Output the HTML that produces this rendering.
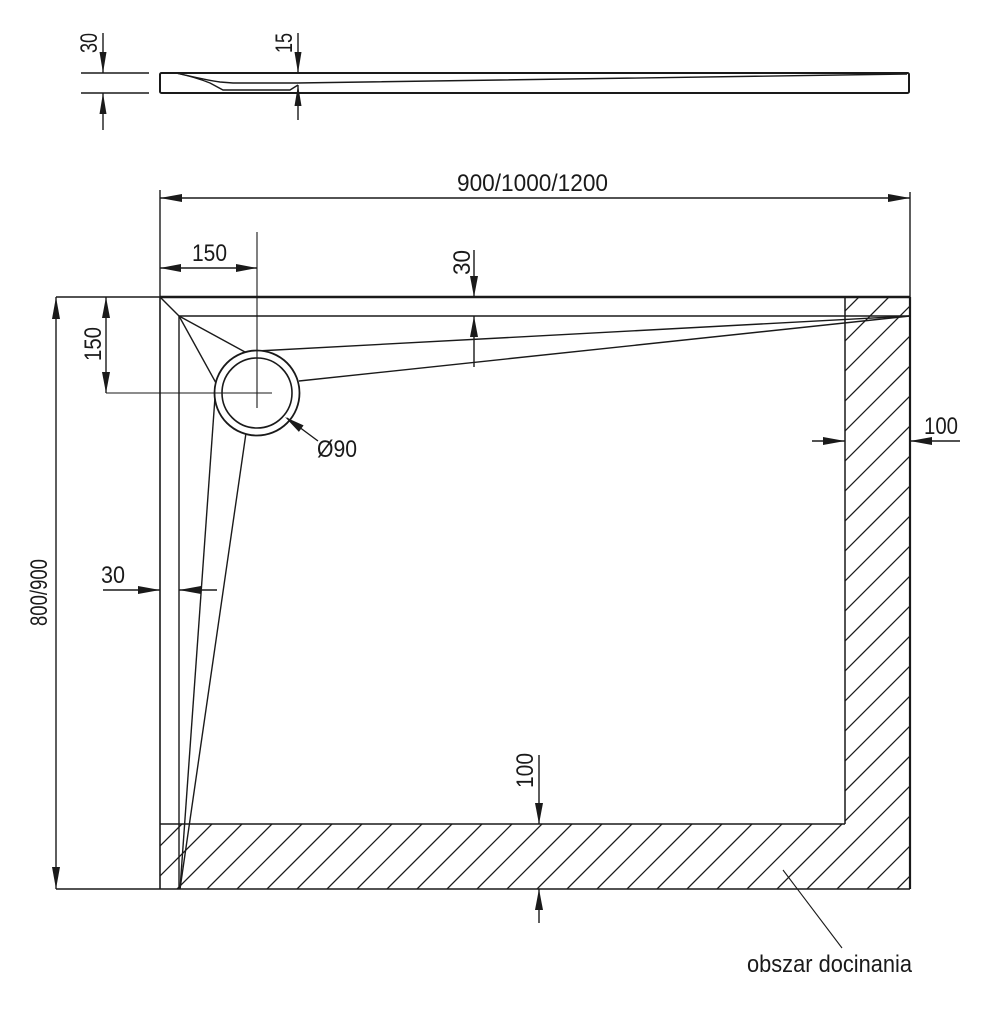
<!DOCTYPE html>
<html><head><meta charset="utf-8"><style>
html,body{margin:0;padding:0;background:#fff;}
svg{display:block;}
text{font-family:"Liberation Sans Narrow","Liberation Sans",sans-serif;fill:#1a1a1a;font-size:24px;}
</style></head><body>
<svg width="992" height="1025" viewBox="0 0 992 1025" xmlns="http://www.w3.org/2000/svg">
<defs>
<clipPath id="hc"><polygon points="160,824 845,824 845,297 910,297 910,889 160,889"/></clipPath>
</defs>
<g stroke="#1a1a1a" fill="none" stroke-width="1.4">
<!-- profile -->
<rect x="160" y="73" width="749" height="20" rx="1.5" stroke-width="2"/>
<path d="M176,73 C190,76 200,79 210,83 L223,90 L290,90 L298,85"/>
<path d="M176,73 C190,76 205,80 220,82 L233,83 L297,83 L907,74"/>
<line x1="81" y1="73" x2="149" y2="73"/>
<line x1="81" y1="93" x2="149" y2="93"/>
<line x1="103" y1="33" x2="103" y2="73"/>
<line x1="103" y1="93" x2="103" y2="130"/>
<line x1="298" y1="33" x2="298" y2="73"/>
<line x1="298" y1="85" x2="298" y2="120"/>

<!-- top overall dimension -->
<line x1="160" y1="198" x2="910" y2="198"/>
<line x1="160" y1="190" x2="160" y2="297"/>
<line x1="910" y1="192" x2="910" y2="297"/>

<!-- hatch -->
<g clip-path="url(#hc)" stroke-width="1.3">
<line x1="-14" y1="900" x2="606" y2="280"/>
<line x1="16" y1="900" x2="636" y2="280"/>
<line x1="46" y1="900" x2="666" y2="280"/>
<line x1="76" y1="900" x2="696" y2="280"/>
<line x1="106" y1="900" x2="726" y2="280"/>
<line x1="136" y1="900" x2="756" y2="280"/>
<line x1="166" y1="900" x2="786" y2="280"/>
<line x1="196" y1="900" x2="816" y2="280"/>
<line x1="226" y1="900" x2="846" y2="280"/>
<line x1="256" y1="900" x2="876" y2="280"/>
<line x1="286" y1="900" x2="906" y2="280"/>
<line x1="316" y1="900" x2="936" y2="280"/>
<line x1="346" y1="900" x2="966" y2="280"/>
<line x1="376" y1="900" x2="996" y2="280"/>
<line x1="406" y1="900" x2="1026" y2="280"/>
<line x1="436" y1="900" x2="1056" y2="280"/>
<line x1="466" y1="900" x2="1086" y2="280"/>
<line x1="496" y1="900" x2="1116" y2="280"/>
<line x1="526" y1="900" x2="1146" y2="280"/>
<line x1="556" y1="900" x2="1176" y2="280"/>
<line x1="586" y1="900" x2="1206" y2="280"/>
<line x1="616" y1="900" x2="1236" y2="280"/>
<line x1="646" y1="900" x2="1266" y2="280"/>
<line x1="676" y1="900" x2="1296" y2="280"/>
<line x1="706" y1="900" x2="1326" y2="280"/>
<line x1="736" y1="900" x2="1356" y2="280"/>
<line x1="766" y1="900" x2="1386" y2="280"/>
<line x1="796" y1="900" x2="1416" y2="280"/>
<line x1="826" y1="900" x2="1446" y2="280"/>
<line x1="856" y1="900" x2="1476" y2="280"/>
<line x1="886" y1="900" x2="1506" y2="280"/>
</g>

<!-- box -->
<line x1="160" y1="297" x2="910" y2="297" stroke-width="2.4"/>
<line x1="160" y1="297" x2="160" y2="889" stroke-width="1.6"/>
<line x1="910" y1="297" x2="910" y2="889" stroke-width="2.2"/>
<line x1="56" y1="889" x2="910" y2="889" stroke-width="1.6"/>
<line x1="179" y1="316" x2="910" y2="316"/>
<line x1="179" y1="316" x2="179" y2="889"/>
<line x1="160" y1="297" x2="179" y2="316"/>
<line x1="845" y1="297" x2="845" y2="824" stroke-width="1.5"/>
<line x1="160" y1="824" x2="845" y2="824" stroke-width="1.5"/>

<!-- drain lines -->
<line x1="179" y1="316" x2="245" y2="352"/>
<line x1="179" y1="316" x2="216" y2="383"/>
<line x1="257" y1="351" x2="910" y2="316"/>
<line x1="299" y1="381" x2="910" y2="316"/>
<line x1="216" y1="383" x2="180" y2="889"/>
<line x1="246" y1="433" x2="180" y2="889"/>
<circle cx="257" cy="393" r="42.5" stroke-width="1.8" fill="#fff"/>
<circle cx="257" cy="393" r="35" stroke-width="1.6"/>
<line x1="257" y1="232" x2="257" y2="408" stroke-width="1.1"/>
<line x1="106" y1="393" x2="272" y2="393" stroke-width="1.1"/>

<!-- 150 top -->
<line x1="160" y1="268" x2="257" y2="268"/>
<!-- left dims -->
<line x1="56" y1="297" x2="160" y2="297"/>
<line x1="106" y1="297" x2="106" y2="393"/>
<line x1="56" y1="297" x2="56" y2="889"/>
<!-- right 100 -->
<line x1="812" y1="441" x2="845" y2="441"/>
<line x1="910" y1="441" x2="960" y2="441"/>
<!-- top 30 -->
<line x1="474" y1="250" x2="474" y2="297"/>
<line x1="474" y1="316" x2="474" y2="367"/>
<!-- left 30 -->
<line x1="103" y1="590" x2="160" y2="590"/>
<line x1="179" y1="590" x2="217" y2="590"/>
<!-- bottom 100 -->
<line x1="539" y1="755" x2="539" y2="824"/>
<line x1="539" y1="889" x2="539" y2="923"/>
<!-- O90 leader -->
<line x1="318" y1="441" x2="287" y2="418"/>
<!-- obszar leader -->
<line x1="783" y1="870" x2="842" y2="948" stroke-width="1.1"/>
</g>

<g fill="#1a1a1a">
<!-- profile arrows -->
<polygon points="103,73 99.5,52 106.5,52"/>
<polygon points="103,93 99.5,114 106.5,114"/>
<polygon points="298,73 294.5,52 301.5,52"/>
<polygon points="298,85 294.5,106 301.5,106"/>
<!-- overall width -->
<polygon points="160,198 182,194 182,202"/>
<polygon points="910,198 888,194 888,202"/>
<!-- 150 top -->
<polygon points="160,268 181,264 181,272"/>
<polygon points="257,268 236,264 236,272"/>
<!-- 150 left -->
<polygon points="106,297 102,318 110,318"/>
<polygon points="106,393 102,372 110,372"/>
<!-- 800/900 -->
<polygon points="56,297 52,319 60,319"/>
<polygon points="56,889 52,867 60,867"/>
<!-- right 100 -->
<polygon points="845,441 823,437 823,445"/>
<polygon points="910,441 932,437 932,445"/>
<!-- top 30 -->
<polygon points="474,297 470,276 478,276"/>
<polygon points="474,316 470,337 478,337"/>
<!-- left 30 -->
<polygon points="160,590 138,586 138,594"/>
<polygon points="179,590 201,586 201,594"/>
<!-- bottom 100 -->
<polygon points="539,824 535,803 543,803"/>
<polygon points="539,889 535,910 543,910"/>
<!-- O90 arrow -->
<polygon points="285,417 303.6,425.4 298.9,431.9"/>
</g>

<!-- texts -->
<text x="457" y="191" font-size="25" textLength="151" lengthAdjust="spacingAndGlyphs">900/1000/1200</text>
<text x="192" y="261" textLength="35" lengthAdjust="spacingAndGlyphs">150</text>
<text x="924" y="434" textLength="34" lengthAdjust="spacingAndGlyphs">100</text>
<text x="101" y="583" textLength="24" lengthAdjust="spacingAndGlyphs">30</text>
<text x="317" y="457" textLength="40" lengthAdjust="spacingAndGlyphs">Ø90</text>
<text x="747" y="972" font-size="23" textLength="165" lengthAdjust="spacingAndGlyphs">obszar docinania</text>

<text transform="translate(97,53) rotate(-90)" textLength="20" lengthAdjust="spacingAndGlyphs">30</text>
<text transform="translate(292,53) rotate(-90)" textLength="20" lengthAdjust="spacingAndGlyphs">15</text>
<text transform="translate(101,361) rotate(-90)" textLength="34" lengthAdjust="spacingAndGlyphs">150</text>
<text transform="translate(47,626) rotate(-90)" textLength="67" lengthAdjust="spacingAndGlyphs">800/900</text>
<text transform="translate(470,275) rotate(-90)" textLength="25" lengthAdjust="spacingAndGlyphs">30</text>
<text transform="translate(533,788) rotate(-90)" textLength="35" lengthAdjust="spacingAndGlyphs">100</text>
</svg>
</body></html>
